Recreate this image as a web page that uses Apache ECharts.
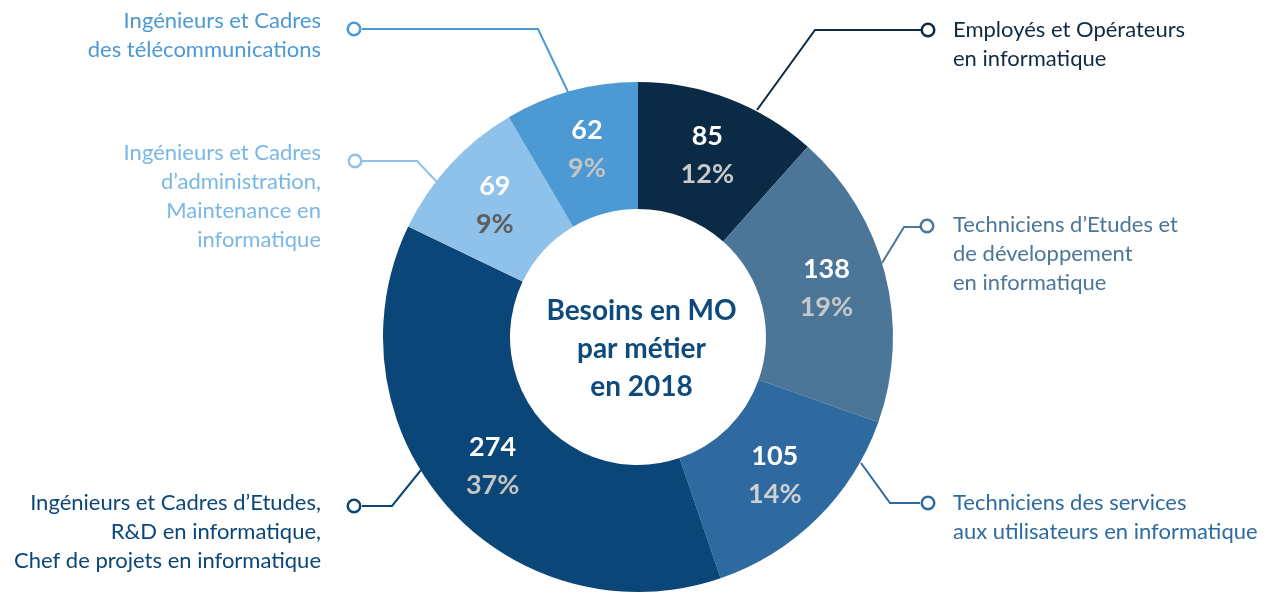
<!DOCTYPE html>
<html><head><meta charset="utf-8">
<script src="https://cdn.jsdelivr.net/npm/echarts@6/dist/echarts.min.js"></script>
<style>html,body{margin:0;padding:0;background:#fff}#c{width:1273px;height:592px}</style>
</head><body><div id="c"></div>
<script>
// ---- data ----
const categories = [
  "Employés et Opérateurs\nen informatique",
  "Techniciens d’Etudes et\nde développement\nen informatique",
  "Techniciens des services\naux utilisateurs en informatique",
  "Ingénieurs et Cadres d’Etudes,\nR&D en informatique,\nChef de projets en informatique",
  "Ingénieurs et Cadres\nd’administration,\nMaintenance en\ninformatique",
  "Ingénieurs et Cadres\ndes télécommunications"
];
const values = [85, 138, 105, 274, 69, 62];
const centerTitle = "Besoins en MO\npar métier\nen 2018";

// ---- styles / layout ----
const colors = ["#0a2a45", "#4b7698", "#2e6a9f", "#0a4677", "#8ec2ea", "#4c99d4"];
const textColors = ["#0f2b44", "#4b7698", "#2e6a9f", "#0a4677", "#7ab7e6", "#4c99d4"];
const pctColors = ["#c9c9c9", "#c8c8c8", "#cfcfcf", "#c4c4c4", "#5e5e5e", "#c4c4c4"];
const linePts = [
  [[757,110],[815,30],[921,30]],
  [[882,263],[904,227],[920,227]],
  [[861,463],[890,503],[920,503]],
  [[421,470],[392,506],[362,506]],
  [[437,182],[417,161],[362,161]],
  [[568,92],[538,29],[362,29]]
];
const circlePos = [[928,30],[927,226],[928,503],[354,506],[355,161],[354,29]];
const textPos = [[953,30,'left'],[953,225,'left'],[953,503,'left'],[321,503,'right'],[321,153,'right'],[321,21,'right']];
const LH = 29;
const FONT = 'Lato';

const chart = echarts.init(document.getElementById('c'), null, {renderer:'canvas'});
const center = [638, 337];
const radius = [128, 255];

const mainData = values.map((v,i)=>({
  value: v, name: categories[i],
  itemStyle: {color: colors[i]},
  label: {
    rich: {
      v: {color:'#fff', fontSize:27, fontWeight:'bold', lineHeight:38, fontFamily:FONT},
      p: {color: pctColors[i], fontSize:27, fontWeight:'bold', lineHeight:38, fontFamily:FONT}
    }
  }
}));
const circleData = values.map((v,i)=>({
  value: v, name: categories[i],
  itemStyle: {color:'rgba(0,0,0,0)'},
  labelLine: {show:true, lineStyle:{color: colors[i], width:2}},
  label: {
    formatter: '{c|}',
    rich: {c: {width:10, height:10, borderRadius:8, borderWidth:2.5, borderColor: colors[i], backgroundColor:'#fff'}}
  }
}));
const textData = values.map((v,i)=>({
  value: v, name: categories[i],
  itemStyle: {color:'rgba(0,0,0,0)'},
  label: {color: textColors[i]}
}));

const option = {
  animation: false,
  backgroundColor: '#fff',
  textStyle: {fontFamily: FONT},
  title: {
    text: centerTitle,
    left: '50%',
    top: 287,
    textAlign: 'center',
    z: 10,
    textStyle: {fontFamily: FONT, fontSize: 28, fontWeight: 'bold', color: '#0e4a7c', lineHeight: 38}
  },
  series: [
    {
      type: 'pie', center, radius, startAngle: 90, clockwise: true,
      percentPrecision: 0, silent: true, avoidLabelOverlap: false,
      label: {show: true, position: 'inside', formatter: '{v|{c}}\n{p|{d}%}'},
      labelLine: {show: false},
      data: mainData
    },
    {
      type: 'pie', center, radius, startAngle: 90, clockwise: true,
      silent: true, avoidLabelOverlap: false, z: 3,
      label: {show: true, position: 'outside'},
      labelLine: {show: true},
      labelLayout: (p) => ({
        x: circlePos[p.dataIndex][0], y: circlePos[p.dataIndex][1],
        align: 'center', verticalAlign: 'middle',
        labelLinePoints: linePts[p.dataIndex]
      }),
      data: circleData
    },
    {
      type: 'pie', center, radius, startAngle: 90, clockwise: true,
      silent: true, avoidLabelOverlap: false, z: 3,
      label: {show: true, position: 'outside', formatter: '{b}', fontSize: 22, lineHeight: LH, fontFamily: FONT},
      labelLine: {show: false},
      labelLayout: (p) => ({
        x: textPos[p.dataIndex][0], y: textPos[p.dataIndex][1] - LH/2,
        align: textPos[p.dataIndex][2], verticalAlign: 'top'
      }),
      data: textData
    }
  ]
};
chart.setOption(option);
</script></body></html>
